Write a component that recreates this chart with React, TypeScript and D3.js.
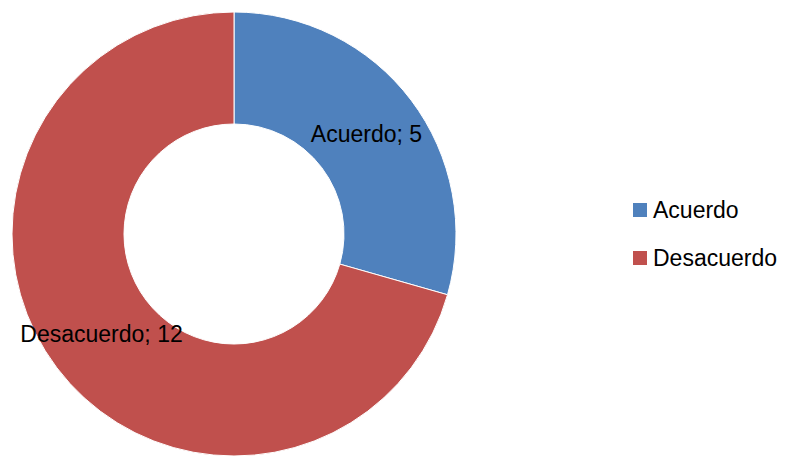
import React from "react";
import * as d3 from "d3";

const categories = ["Acuerdo", "Desacuerdo"];
const values = [5, 12];
const colors = ["#4F81BD", "#C0504D"];

export default function App() {
  const width = 787;
  const height = 456;
  const cx = 234;
  const cy = 234;
  const outerR = 222;
  const innerR = 110;
  const font = "'Liberation Sans', Arial, sans-serif";
  const fs = 23;

  const data = categories.map((c, i) => ({ c, v: values[i], color: colors[i] }));
  const pie = d3.pie<any>().value((d) => d.v).sort(null);
  const arcs = pie(data);
  const arc = d3.arc<any>().innerRadius(innerR).outerRadius(outerR);

  return (
    <svg width={width} height={height} style={{ position: "absolute", left: 0, top: 0 }}>
      <rect width={width} height={height} fill="#fff" />
      <g transform={`translate(${cx},${cy})`}>
        {arcs.map((a, i) => (
          <path key={i} d={arc(a) as string} fill={a.data.color} stroke="#fff" strokeWidth={1} />
        ))}
        {arcs.map((a, i) => {
          const [x, y] = arc.centroid(a);
          return (
            <text key={"l" + i} x={x} y={y} textAnchor="middle" dominantBaseline="central"
              fontFamily={font} fontSize={fs} fill="#000">
              {`${a.data.c}; ${a.data.v}`}
            </text>
          );
        })}
      </g>
      <g transform="translate(633,203)">
        {categories.map((c, i) => (
          <g key={c} transform={`translate(0,${i * 48})`}>
            <rect x={0} y={0} width={14} height={14} fill={colors[i]} />
            <text x={20} y={7} dominantBaseline="central" fontFamily={font} fontSize={fs} fill="#000">
              {c}
            </text>
          </g>
        ))}
      </g>
    </svg>
  );
}
